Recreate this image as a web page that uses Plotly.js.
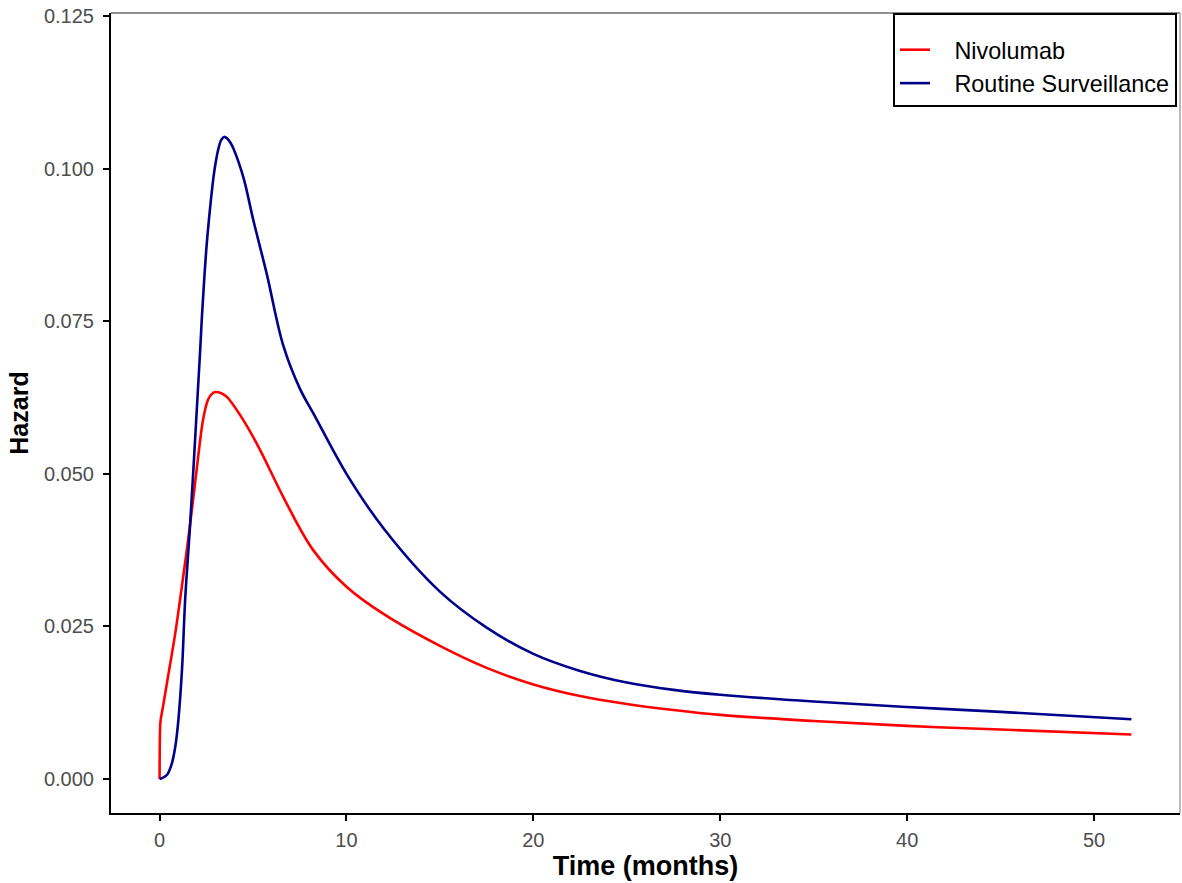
<!DOCTYPE html>
<html>
<head>
<meta charset="utf-8">
<script src="https://cdn.plot.ly/plotly-3.0.1.min.js"></script>
<style>html,body{margin:0;padding:0;background:#fff;}#chart{width:1182px;height:883px;}</style>
</head>
<body>
<div id="chart"></div>
<script>
// Routine Surveillance
const rsTime = [0, 0.1, 0.4, 0.66, 0.84, 1.0, 1.2, 1.37, 1.64, 2.0, 2.17, 2.27, 2.38, 2.5, 2.62, 2.75, 2.88, 3.0, 3.15, 3.3, 3.45, 3.6, 3.8, 3.95, 4.48, 5.02, 5.73, 6.62, 7.5, 8.3, 10, 12, 15, 17.5, 20, 22.5, 25, 27.5, 30, 35, 40, 45, 52];
const rsHazard = [0, 0.0001, 0.0007, 0.0026, 0.0053, 0.0095, 0.0180, 0.0295, 0.0420, 0.0610, 0.0702, 0.0760, 0.0815, 0.0868, 0.0910, 0.0950, 0.0985, 0.1010, 0.1033, 0.1047, 0.1052, 0.1050, 0.1042, 0.1033, 0.0986, 0.0915, 0.0828, 0.0710, 0.0640, 0.0595, 0.0500, 0.0410, 0.0307, 0.0248, 0.0205, 0.0177, 0.0158, 0.0146, 0.0138, 0.0127, 0.0118, 0.0110, 0.0098];
// Nivolumab
const nivoTime = [0, 0.02, 0.05, 0.18, 0.48, 0.84, 1.1, 1.55, 2.0, 2.15, 2.3, 2.45, 2.6, 2.8, 2.97, 3.3, 3.6, 4.48, 5.38, 6.62, 8.22, 10, 12, 15, 17.5, 20, 22.5, 25, 27.5, 30, 35, 40, 45, 52];
const nivoHazard = [0, 0.0075, 0.0095, 0.0118, 0.0173, 0.0239, 0.0295, 0.0397, 0.0511, 0.0550, 0.0584, 0.0607, 0.0622, 0.0631, 0.0634, 0.0632, 0.0626, 0.0588, 0.0539, 0.0462, 0.0375, 0.0315, 0.0270, 0.0218, 0.0182, 0.0155, 0.0136, 0.0123, 0.0113, 0.0105, 0.0095, 0.0087, 0.0081, 0.0073];

const seriesNames = ["Nivolumab", "Routine Surveillance"];
const seriesColors = ["#FF0000", "#00008B"];
const xTicks = [0, 10, 20, 30, 40, 50];
const yTicks = [0, 0.025, 0.05, 0.075, 0.1, 0.125];
const yTickText = ["0.000", "0.025", "0.050", "0.075", "0.100", "0.125"];

const FONT = "'Liberation Sans', Arial, sans-serif";
const NB = "\u00A0";

const traces = [
  {x: nivoTime, y: nivoHazard, name: NB + NB + NB + seriesNames[0], type: "scatter", mode: "lines",
   line: {color: seriesColors[0], width: 2.6, shape: "spline", smoothing: 1}},
  {x: rsTime, y: rsHazard, name: NB + NB + NB + seriesNames[1], type: "scatter", mode: "lines",
   line: {color: seriesColors[1], width: 2.6, shape: "spline", smoothing: 1}}
];

const layout = {
  width: 1182, height: 883,
  margin: {l: 111, r: 2, t: 13, b: 70, pad: 0},
  paper_bgcolor: "#fff", plot_bgcolor: "#fff",
  font: {family: FONT, color: "#000"},
  showlegend: true,
  legend: {
    x: 0.7315, y: 1, xanchor: "left", yanchor: "top",
    bordercolor: "#000", borderwidth: 2, bgcolor: "#fff",
    font: {family: FONT, size: 23.4, color: "#000"},
    title: {text: " ", font: {size: 10}},
    tracegroupgap: 0
  },
  xaxis: {
    range: [-2.6, 54.6], tickvals: xTicks, ticks: "outside", ticklen: 6, tickwidth: 2, tickcolor: "#000",
    showline: true, linecolor: "#000", linewidth: 2, showgrid: false, zeroline: false,
    tickfont: {family: FONT, size: 20, color: "#4D4D4D"}, ticklabelstandoff: 2,
    title: {text: "<b>Time (months)</b>", font: {family: FONT, size: 27, color: "#000"}, standoff: 4},
    automargin: false
  },
  yaxis: {
    range: [-0.00557, 0.1255], tickvals: yTicks, ticktext: yTickText, ticks: "outside", ticklen: 6, tickwidth: 2, tickcolor: "#000",
    showline: true, linecolor: "#000", linewidth: 2, showgrid: false, zeroline: false,
    tickfont: {family: FONT, size: 20, color: "#4D4D4D"}, ticklabelstandoff: 5,
    title: {text: "<b>Hazard</b>", font: {family: FONT, size: 25, color: "#000"}, standoff: 8},
    automargin: false
  },
  shapes: [
    {type: "line", xref: "paper", yref: "paper", x0: 0, x1: 1, y0: 1, y1: 1, line: {color: "#222", width: 1}},
    {type: "line", xref: "paper", yref: "paper", x0: 1, x1: 1, y0: 0, y1: 1, line: {color: "#777", width: 1}}
  ]
};

Plotly.newPlot("chart", traces, layout, {displayModeBar: false, staticPlot: true});
</script>
</body>
</html>
